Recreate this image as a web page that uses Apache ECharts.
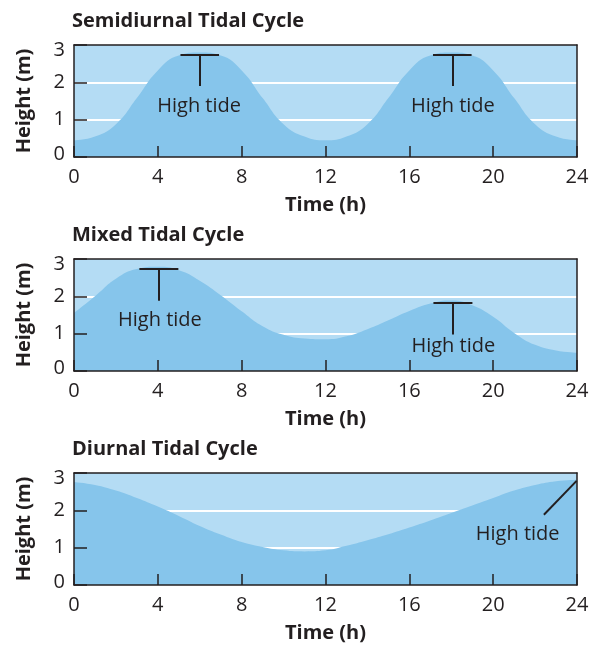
<!DOCTYPE html>
<html>
<head>
<meta charset="utf-8">
<script src="https://cdn.jsdelivr.net/npm/echarts@6/dist/echarts.min.js"></script>
<style>
html,body{margin:0;padding:0;background:#ffffff;}
#chart{width:601px;height:648px;}
</style>
</head>
<body>
<div id="chart"></div>
<script>
// ---- data ----
const hours = [0,1,2,3,4,5,6,7,8,9,10,11,12,13,14,15,16,17,18,19,20,21,22,23,24];
const semidiurnal = [0.45,0.55,0.88,1.58,2.32,2.72,2.8,2.72,2.32,1.58,0.88,0.55,0.45,0.55,0.88,1.58,2.32,2.72,2.8,2.72,2.32,1.58,0.88,0.55,0.45];
const mixed = [1.55,2.0,2.47,2.73,2.79,2.7,2.42,2.03,1.6,1.2,0.97,0.87,0.85,0.93,1.12,1.36,1.61,1.81,1.89,1.76,1.45,1.02,0.7,0.55,0.49];
const diurnal = [2.76,2.68,2.53,2.33,2.1,1.85,1.58,1.35,1.15,1.02,0.93,0.9,0.93,1.05,1.2,1.36,1.54,1.73,1.93,2.13,2.33,2.53,2.68,2.78,2.82];
const titles = ['Semidiurnal Tidal Cycle', 'Mixed Tidal Cycle', 'Diurnal Tidal Cycle'];
const xName = 'Time (h)';
const yName = 'Height (m)';
const annotationText = 'High tide';
// "T" markers: [time, barHeight, stemBottom, halfWidth, labelTime, labelHeight]
const semiMarkers = [[6.0, 2.74, 1.9, 0.92, 5.97, 1.37], [18.05, 2.74, 1.9, 0.92, 18.08, 1.37]];
const mixedMarkers = [[4.05, 2.73, 1.88, 0.93, 4.1, 1.37], [18.08, 1.83, 0.98, 0.93, 18.1, 0.66]];
// diagonal pointer: [fromTime, fromHeight, toTime, toHeight, labelTime, labelHeight]
const diurnalPointer = [23.98, 2.79, 22.42, 1.88, 21.17, 1.37];

const panels = [semidiurnal, mixed, diurnal];
const gridTops = [45, 259, 473];
const FONT = '"Open Sans", sans-serif';
const DARK = '#231f20';
const LIGHT = '#b4dcf4';
const AREA = '#86c5eb';

const chart = echarts.init(document.getElementById('chart'), null, {renderer: 'canvas'});

const grids = [], xAxes = [], yAxes = [], series = [], titleOpts = [];

function tMarker(m) {
  const [t, top, bottom, half] = m;
  return [
    [{coord: [t - half, top]}, {coord: [t + half, top]}],
    [{coord: [t, top]}, {coord: [t, bottom]}]
  ];
}

panels.forEach((vals, i) => {
  grids.push({left: 74, width: 503, top: gridTops[i], height: 112, show: true,
    backgroundColor: LIGHT, borderWidth: 0});
  titleOpts.push({text: titles[i], left: 72, top: gridTops[i] - 34, padding: 0,
    textStyle: {fontFamily: FONT, fontWeight: 'bold', fontSize: 20, color: DARK}});
  // main x axis
  xAxes.push({gridIndex: i, type: 'value', min: 0, max: 24, interval: 4, position: 'bottom', z: 5,
    axisLine: {show: true, onZero: false, lineStyle: {color: DARK, width: 1.5}},
    axisTick: {show: true, inside: true, length: 11, lineStyle: {color: DARK, width: 1.5}},
    axisLabel: {fontFamily: FONT, fontSize: 20, color: DARK, margin: 10},
    splitLine: {show: false},
    name: xName, nameLocation: 'middle', nameGap: 38,
    nameTextStyle: {fontFamily: FONT, fontWeight: 'bold', fontSize: 20, color: DARK}});
  // top border
  xAxes.push({gridIndex: i, type: 'value', min: 0, max: 24, interval: 4, position: 'top', z: 5,
    axisLine: {show: true, onZero: false, lineStyle: {color: DARK, width: 1.5}},
    axisTick: {show: false}, axisLabel: {show: false}, splitLine: {show: false}});
  // main y axis
  yAxes.push({gridIndex: i, type: 'value', min: 0, max: 3, interval: 1, position: 'left', z: 5,
    axisLine: {show: true, onZero: false, lineStyle: {color: DARK, width: 1.5}},
    axisTick: {show: true, inside: true, length: 13, lineStyle: {color: DARK, width: 1.5}},
    axisLabel: {fontFamily: FONT, fontSize: 20, color: DARK, margin: 9,
      formatter: v => v === 3 ? '{mx|3}' : (v === 0 ? '{mn|0}' : String(v)),
      rich: {
        mx: {fontFamily: FONT, fontSize: 20, color: DARK, padding: [10, 0, 0, 0]},
        mn: {fontFamily: FONT, fontSize: 20, color: DARK, padding: [0, 0, 6, 0]}
      }},
    splitLine: {show: false},
    name: yName, nameLocation: 'middle', nameGap: 40, nameRotate: 90,
    nameTextStyle: {fontFamily: FONT, fontWeight: 'bold', fontSize: 20, color: DARK}});
  // gridlines (below area)
  yAxes.push({gridIndex: i, type: 'value', min: 0, max: 3, interval: 1, position: 'left', z: 1,
    axisLine: {show: false}, axisTick: {show: false}, axisLabel: {show: false},
    splitLine: {show: true, showMinLine: false, showMaxLine: false, lineStyle: {color: '#ffffff', width: 2}}});
  // right border
  yAxes.push({gridIndex: i, type: 'value', min: 0, max: 3, interval: 1, position: 'right', z: 5,
    axisLine: {show: true, onZero: false, lineStyle: {color: DARK, width: 1.5}},
    axisTick: {show: false}, axisLabel: {show: false}, splitLine: {show: false}});

  let lines = [], labels = [];
  if (i === 0) {
    semiMarkers.forEach(m => { lines = lines.concat(tMarker(m)); labels.push([m[4], m[5]]); });
  } else if (i === 1) {
    mixedMarkers.forEach(m => { lines = lines.concat(tMarker(m)); labels.push([m[4], m[5]]); });
  } else {
    const p = diurnalPointer;
    lines.push([{coord: [p[0], p[1]]}, {coord: [p[2], p[3]]}]);
    labels.push([p[4], p[5]]);
  }

  series.push({
    type: 'line', xAxisIndex: 2 * i, yAxisIndex: 3 * i, z: 2,
    data: hours.map((h, k) => [h, vals[k]]),
    smooth: 0.5, showSymbol: false, symbol: 'none',
    lineStyle: {width: 0, color: AREA},
    areaStyle: {color: AREA, opacity: 1},
    silent: true,
    markLine: {silent: true, symbol: ['none', 'none'], label: {show: false},
      lineStyle: {color: DARK, width: 2, type: 'solid'},
      emphasis: {disabled: true},
      data: lines},
    markPoint: {silent: true, symbol: 'circle', symbolSize: 0,
      label: {show: true, position: 'inside', formatter: annotationText,
        fontFamily: FONT, fontSize: 20, color: DARK},
      data: labels.map(c => ({coord: c}))}
  });
});

chart.setOption({
  animation: false,
  title: titleOpts,
  grid: grids,
  xAxis: xAxes,
  yAxis: yAxes,
  series: series
});
</script>
</body>
</html>
